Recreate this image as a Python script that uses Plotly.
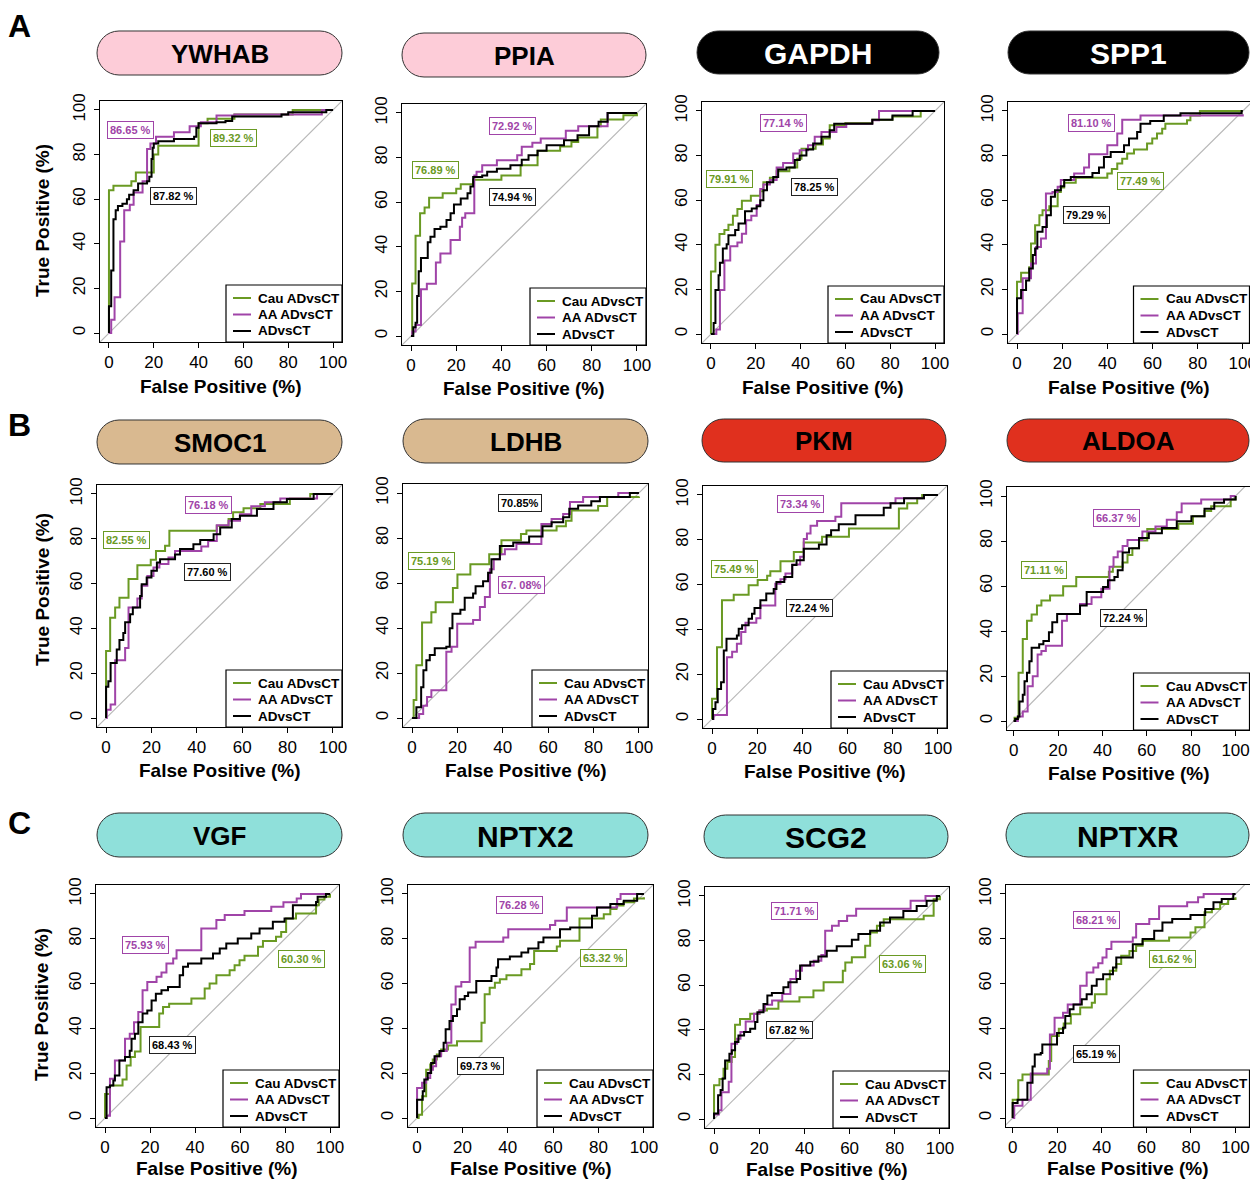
import plotly.graph_objects as go

W, H = 1250, 1180
GREEN = "#6a9a23"
PURPLE = "#a044a8"
BLACK = "#000000"
FONT = "Liberation Sans, Arial, Helvetica, sans-serif"

# ---------------- data ----------------
GENES = ["YWHAB", "PPIA", "GAPDH", "SPP1", "SMOC1", "LDHB", "PKM", "ALDOA", "VGF", "NPTX2", "SCG2", "NPTXR"]
SERIES = ["Cau ADvsCT", "AA ADvsCT", "ADvsCT"]
TICKS = [0, 20, 40, 60, 80, 100]

AUC_CAU = ["89.32 %", "76.89 %", "79.91 %", "77.49 %", "82.55 %", "75.19 %", "75.49 %", "71.11 %", "60.30 %", "63.32 %", "63.06 %", "61.62 %"]
AUC_AA = ["86.65 %", "72.92 %", "77.14 %", "81.10 %", "76.18 %", "67. 08%", "73.34 %", "66.37 %", "75.93 %", "76.28 %", "71.71 %", "68.21 %"]
AUC_ALL = ["87.82 %", "74.94 %", "78.25 %", "79.29 %", "77.60 %", "70.85%", "72.24 %", "72.24 %", "68.43 %", "69.73 %", "67.82 %", "65.19 %"]

# ROC curves: (false positive %, true positive %) step vertices
ywhab_cau = [(0,0),(0,64),(2,66),(10,68),(12,72),(20,80),(22,84),(40,94),(44,96),(56,98),(82,100),(100,100)]
ywhab_aa = [(0,0),(1,6),(2.5,16),(5,41),(6.8,55),(9.3,57.5),(11,63),(15,68),(17,82.5),(18.5,85),(21,88),(29,90),(36,92.7),(41,94.5),(48,97.5),(56,98),(95,100),(100,100)]
ywhab_all = [(0,0),(0,12),(1,28),(2,51),(3,55),(4,57),(6,58),(8,60),(9,62),(11,64),(13,67),(17,68),(18,70),(19,78),(19.5,83),(20,85),(22,86),(29,87),(38,88),(39,92),(40,94),(48,94.5),(52,95),(55,97),(77,98),(80,99),(97,100),(100,100)]

ppia_cau = [(0,0),(0.5,23.6),(2,45),(4,55),(6,57.6),(8,62),(14,64),(20,66),(22,68),(27.5,70),(40,72),(48.5,76.5),(56,83),(66,85),(71,87),(74,89),(82.5,94),(84,97),(94,99),(100,100)]
ppia_aa = [(0,0),(0.5,2),(2,5),(4.4,21),(7,23.5),(11,33),(13,37),(17.5,43),(21.6,49),(22.6,53),(24,55),(28,72),(29,73.6),(31.5,76.5),(38,78.8),(47,81),(49,84.8),(53.7,86.6),(57.4,88.5),(68.5,92),(74,94),(87,100),(100,100)]
ppia_all = [(0,0),(1,4),(2,6),(2.7,18),(3.4,29),(4.4,35),(7.4,42),(8.6,44.5),(10.4,48),(13,49),(15.7,52),(17.5,55),(19,59),(22,61.6),(25,64),(26.3,67),(27.5,71.3),(31.5,72),(33.7,73.6),(38,75),(44,76.5),(49,79),(52,81),(56,83),(60,85.5),(67.7,87.8),(73.7,90),(78.8,94),(83,96),(87,100),(100,100)]

gapdh_cau = [(0,0),(0,28),(2,40),(3.8,44.8),(6,46.6),(7.8,49),(9.8,53),(11.8,56),(13.8,59.7),(17.8,62),(22,64),(23.4,68),(26.3,70),(29.3,73),(35,74.6),(38.5,78.6),(40.4,83),(46.7,85),(50,87.6),(53,93.6),(60,94.6),(72,96),(81,97.5),(93.6,100),(100,100)]
gapdh_aa = [(0,0),(2.4,2),(4,19.7),(6,33),(8.6,39.4),(11.8,41),(13.8,45),(15.7,51),(18,53),(20.4,57.8),(22,65),(23.4,67),(26.3,69),(29.3,74.6),(32.2,76.7),(36.7,80.9),(39.6,82.4),(43.3,84.6),(46.3,88.4),(49.3,90.6),(56,92.8),(60.4,94.3),(72,95.8),(75,100),(100,100)]
gapdh_all = [(0,0),(1.2,5),(2,19.7),(3.4,26.4),(4,32),(5.3,38.4),(7,40.3),(7.8,44.3),(10.8,46.6),(12.3,49.6),(15.2,55),(18.2,56.3),(20.4,57.3),(22,60),(23.4,64.5),(25,68),(27.8,70.4),(30,73.7),(33.7,74.6),(37.4,78),(39.6,80),(42.6,82.7),(45.6,85.4),(49.3,88.4),(53,91.3),(55,94.3),(72,96),(81,98),(90,100),(100,100)]

spp1_cau = [(0,0),(0,23.4),(1.8,27.5),(5.4,29.9),(6.2,40.6),(8,48.8),(9.9,53.3),(11.3,55.5),(14.3,57.3),(18,63.7),(19.4,65.7),(20.9,67.8),(26,70),(40,72),(42,74),(44.4,76.4),(46.6,78.6),(48.8,80.9),(51.8,82.7),(57.6,85.4),(59.9,87.6),(62,89.9),(64.3,92),(65.7,94.3),(75.3,95.8),(76.8,98),(81,100),(100,100)]
spp1_aa = [(0,0),(0.3,9.3),(2.5,25),(6.2,31.6),(8.4,39),(10.6,42.8),(12.8,63),(15.7,63.7),(18,66),(19.4,69),(25.3,72),(29.7,74.6),(31.9,80.6),(40,84.6),(44.4,89.9),(46.6,96),(54.7,98),(100,98.5)]
spp1_all = [(0,0),(0,16),(1.8,19.7),(4,24),(5.4,29.4),(7,35.4),(8,38.4),(9,45.8),(11.3,48),(13.2,53.3),(15,61.5),(16.8,64.5),(19.4,66.3),(20.9,69),(23.8,70.4),(33.4,72.2),(36.3,74.6),(38.5,79.4),(41.5,81.6),(47.4,84.6),(49.6,87.6),(53.2,90.6),(54.7,94.3),(59,95.5),(65,98),(72.4,99),(99.5,100),(100,100)]

smoc1_cau = [(0,0),(0,29.9),(1.8,44.8),(4,49.3),(5.9,53.7),(9.9,62),(13.8,68.2),(19.7,70.6),(22,74.6),(26,76.9),(27.9,83.6),(48.8,85.8),(54,88.8),(56,91.8),(60.6,93.6),(68,95.5),(81,98),(90,100),(100,100)]
smoc1_aa = [(0,0),(0.3,3.7),(2,6),(4,25.8),(8.4,31.3),(9.9,49.3),(13.8,53.3),(15.7,59),(18.2,63.4),(20.9,67.2),(23.5,68.7),(27.5,71.6),(30.4,74.6),(42,76.6),(45,79),(48.8,86),(54,88),(59,91),(64,94.5),(70,96.3),(76.8,98),(93,100),(100,100)]
smoc1_all = [(0,0),(0,14),(1,16.4),(2,24.6),(4.7,30.6),(5.9,34.8),(7.6,38),(8.4,42.8),(10.6,46.3),(11.8,49.3),(15,54.5),(15.7,59.7),(17.9,62.7),(20,65.7),(22.4,69.4),(23.8,70.9),(30.4,73),(32.6,75.4),(38.5,77.6),(41.5,79.5),(47.4,82),(50.3,85),(55.4,88.8),(59,90.3),(66.5,93.3),(73.8,96.3),(79.7,97.8),(91.5,100),(100,100)]

ldhb_cau = [(0,0),(0.7,8),(1.9,23.5),(4.4,42.5),(8.5,47),(10.4,51.4),(18,57.8),(20,63.8),(25.7,68.3),(34,72.8),(39.4,79),(48,81.8),(50.4,83.3),(63.7,85.2),(67.8,87.7),(70.3,92.2),(82,94.2),(86,98.2),(100,98.5)]
ldhb_aa = [(0,0),(3.1,1.8),(4.9,5.5),(6.6,9.3),(8.5,12.3),(15.1,29.4),(17.4,31.7),(19.9,41.9),(26.9,43.6),(29.9,49.3),(32.1,53.8),(34.3,66.1),(36,70.6),(38.7,72.8),(40.9,75),(46,77.3),(57,86.2),(61.5,88.5),(66.6,90.7),(69.6,96),(75.4,98.2),(90.9,100),(100,100)]
ldhb_all = [(0,0),(1.9,4.8),(4,13.7),(5,21.2),(6.3,25.7),(7.8,28),(10,31),(15.1,31.7),(16.6,39.9),(17.8,46.3),(21.3,48.1),(23.2,53.4),(26.9,55.3),(28,58.6),(31.3,60.8),(33.5,64.6),(35,70.6),(38.7,76.5),(44.6,78),(51.6,80.7),(57.5,85.2),(61.5,87),(66.6,89.2),(69.3,93),(73.2,94.5),(79,96.3),(82.8,98.2),(96,100),(100,100)]

pkm_cau = [(0,0),(0,9),(2.2,32),(4.4,53),(9.6,55.5),(16.2,59.7),(20.2,62),(24.4,63.9),(25.8,66),(30.3,70.4),(36.2,74.6),(40.6,78.8),(48.7,81.3),(60.6,85),(82.7,94),(86.4,96.3),(90.8,98.5),(93,100),(100,100)]
pkm_aa = [(0,0),(0.7,1.8),(6.6,27.6),(8.9,30),(11,33.6),(12.9,38.8),(14.8,43),(19.6,45),(21.4,50.7),(28,60.4),(30.3,62.4),(32.5,64.9),(35.5,69),(39,72.4),(40.6,80.3),(42,82.8),(43.6,86.3),(46.5,88.4),(54.6,90.3),(57.2,96.3),(81.2,98.5),(93.8,100),(100,100)]
pkm_all = [(0,0),(0.4,4.5),(1.5,7.5),(2.5,13.4),(4,16.4),(5.2,30.6),(6.4,35.8),(11,37.3),(11.8,40.3),(13.3,41.8),(16.2,44.8),(17.7,47),(18.8,49.6),(21.4,53),(24,56),(27.3,58),(28.5,61.2),(32,63.4),(35.5,68.7),(37.4,70.9),(40.6,76),(47.3,77.9),(50.7,82),(52.7,84.3),(56.1,86.9),(63.5,91),(76,94.3),(79,96.3),(85,98.5),(93.8,100),(100,100)]

aldoa_cau = [(0,0),(0.4,1.5),(2.2,21.4),(4.1,36.4),(6,44.6),(8.1,47.3),(10.5,51.3),(12.5,53.6),(16.4,55.8),(22.3,59.9),(28.2,64),(42.9,66.3),(44.7,68.6),(49.1,70.4),(51.3,73.8),(53.5,76.8),(56.5,80.2),(60.2,85.3),(74.2,87.7),(80.8,91),(86,93.3),(89,95.5),(97.8,98.5),(100,100)]
aldoa_aa = [(0,0),(1.9,2),(4.1,4.2),(6.3,15.4),(8.6,19.9),(10.8,29.6),(12.5,31.1),(14.5,33.4),(21.8,44.6),(24,47.6),(29.9,52),(35.1,55),(39.5,58.8),(43.2,68.6),(45,72.8),(46.9,75.3),(49.1,77.8),(51.3,80.5),(58,84.2),(63.9,86.5),(69,89.5),(73.5,92.8),(75.7,96.7),(84.5,98.5),(97.8,100),(100,100)]
aldoa_all = [(0,0),(0.7,0.9),(1.9,2),(2.6,8.7),(4.1,11.7),(4.9,17.7),(6,21.4),(7.1,26.6),(8.1,32.6),(11.5,34.1),(13.4,35.6),(15.9,39.4),(17.4,43.9),(19.6,47.6),(29.9,51.3),(32.9,57.3),(40.3,59.6),(42.5,62.6),(45.4,64),(46.9,67),(49.1,74.9),(52,76.8),(56.5,81.3),(60.9,83.5),(66.8,85.8),(73.5,88.8),(80.1,91),(86,94.3),(90.4,97),(94.8,98.5),(100,100)]

vgf_cau = [(0,0),(0,10.7),(2.2,14.5),(7.8,17.2),(9.6,23.4),(11.4,27.2),(13.3,29.7),(15.8,40.6),(24.1,46.6),(25.8,49.6),(28.5,51),(38.4,53.3),(44.3,57.8),(46.5,60),(49.5,63.7),(55.4,66),(57.6,68.2),(59.8,70.4),(62,72.4),(68,76.4),(70.2,79),(76,80.9),(78.3,83),(80.5,89),(84.9,91.3),(93.8,95),(95,97.5),(97.5,98.8),(100,100)]
vgf_aa = [(0,0),(0.7,1),(2.2,17.5),(4.4,25.7),(8.9,35.4),(11,37.6),(12.9,42.8),(14.8,47.3),(16.7,57),(18.8,60.7),(22.9,63),(25.1,64.9),(27.3,69),(30.3,71.2),(31.8,74.9),(42.8,84.6),(49.5,88.4),(53.2,90.6),(62,92.4),(73.9,94.3),(79.3,96.3),(85.2,98),(87.1,100),(100,100)]
vgf_all = [(0,0),(0.7,13.7),(2.2,14.5),(3.7,16.7),(4.4,19),(6.4,25.7),(8.9,27.2),(11,30),(11.8,35.4),(13.3,37.6),(14.8,42.8),(16.7,46.6),(18.8,48),(20.7,52.5),(22.6,55.5),(25.1,57),(28,58.5),(33.2,63.7),(34.7,67.5),(36.9,69),(42.8,71.2),(48,73.4),(51,75.7),(53.9,77.9),(59,80.1),(65,82.4),(68.7,84.6),(74.6,87.6),(79.8,89),(83.5,95),(93.8,96.4),(94.5,98.8),(98.2,100),(100,100)]

nptx2_cau = [(0,0),(0.7,1.5),(2.2,9.7),(4,21.6),(5.8,23.9),(6.9,26.1),(8.7,28.4),(10.6,30.6),(13.6,32.4),(17.6,34.3),(28.4,42.5),(29.8,55.2),(32,58.2),(34.3,60.4),(36.5,61.9),(39.4,63.7),(46,66.4),(49.8,68.7),(51.6,74.6),(61.6,76.6),(63,79.1),(71.6,89.1),(82.3,91),(85.2,93.3),(87.9,94.8),(91,96.3),(95.6,98),(100,98.5)]
nptx2_aa = [(0,0),(0,13.4),(2.2,15.7),(4,17.9),(5.8,21.6),(7,23.1),(8.4,27.6),(10.6,29.9),(13.1,33.6),(15.1,50.7),(17,58.7),(19.5,60.7),(23.2,76.1),(25.8,78.7),(38,80.6),(40.2,84.3),(58.6,86.1),(60.9,88.1),(66,94),(88.2,97.8),(89.7,100),(100,100)]
nptx2_all = [(0,0),(0,8.2),(2.5,12),(3.2,17.2),(4.7,20.1),(6.2,24.6),(7.7,27.6),(9.9,29.9),(11.7,33.6),(12.6,39.6),(14.3,43.3),(15.8,45.5),(17.6,48.5),(18.8,53),(21,54.5),(22.5,56),(26.1,61.2),(32.8,63.4),(35,67.2),(35.7,70.9),(40.9,72.1),(46,73.9),(49,75.7),(53.5,78.4),(55.7,80.6),(63,84.3),(67.5,85),(77.1,90.3),(79.3,94),(85.2,95.5),(91.1,97),(97,100),(100,100)]

scg2_cau = [(0,0),(0,15.2),(2.4,18),(4.2,22.6),(5.9,25.6),(7.8,27.8),(9.3,42.3),(11.5,44.9),(16,47.2),(20.1,48.7),(23.4,49.4),(28.5,52.7),(37.8,54.6),(44,57.6),(48.5,61.3),(57,66.5),(58.1,70.2),(61,72.5),(66.9,77.7),(69.1,83.6),(72.1,86.6),(75.1,89.6),(92.8,91.1),(97.2,98.5),(100,100)]
scg2_aa = [(0,0),(0,2),(2.1,4),(3.3,12),(6.5,16.7),(7.7,33.8),(10.2,36),(11.7,39),(14,43.7),(17.7,47.2),(20.1,48.7),(22.5,51.2),(25.7,53.1),(30.2,56.1),(33.8,62.8),(36.3,66.5),(38.9,68.8),(44.1,71),(47.5,73.5),(49.2,84.4),(52.2,86.6),(55.2,88.8),(58.9,91.1),(62.9,94.3),(87,97.8),(93.6,100),(100,100)]
scg2_all = [(0,0),(0,2.5),(1.8,10.7),(2.9,13),(3.8,18.2),(4.9,26.3),(6.8,29.3),(7.9,30.8),(9.3,34.5),(10.8,37.5),(13.3,39),(16,40.5),(18.2,43.5),(19.2,47.9),(21.9,51.6),(23.6,55.4),(25.6,56.5),(30.7,59.1),(32.9,61.3),(36.6,62.8),(38.1,68.8),(42.6,70.5),(46.2,72.9),(49.9,75.4),(54.3,77.4),(61,80.4),(63.9,82.9),(69.1,84.4),(73.5,88.1),(77.9,90.3),(83.8,93.3),(89.7,95.5),(94.1,97.8),(98.6,100),(100,100)]

nptxr_cau = [(0,0),(0,8.2),(2.5,16.9),(4.4,19.4),(16.2,25.4),(17.3,36.6),(20.7,39.9),(22.9,42.2),(26.1,46.3),(30.3,49.3),(35.5,51.5),(36.9,55.2),(42.1,61.9),(43.6,65.7),(46.5,68.7),(48.7,72.4),(52.4,74.6),(55.4,76.9),(58.3,79.1),(70.2,80.6),(79.8,82.8),(82,85.1),(86.1,91.8),(89.4,93.3),(93.1,95.5),(96.7,97.8),(100,98.5)]
nptxr_aa = [(0,0),(0.7,5.5),(4.4,8.2),(8.1,19.9),(15.5,22),(16.7,37.3),(18.8,44.8),(22.6,47),(24.7,50.7),(30.3,59),(33.2,64.9),(36.2,67.2),(38.4,69.1),(40.3,71.6),(42.1,75.4),(44.3,78.7),(53.9,80.6),(55.4,86.6),(61.3,88.8),(65.7,94.5),(78.3,96.3),(83.2,98.5),(85.7,100),(100,100)]
nptxr_all = [(0,0),(0,6.7),(2.2,8.2),(6.6,15.7),(8.9,23),(9.9,28.4),(12.6,29),(13.3,32.8),(19.9,38),(22.6,40.3),(23.6,45.5),(25.6,48.5),(27.3,50.7),(31,53),(33.2,55.2),(35.5,59),(37.7,61.9),(40.6,64.2),(45,67.2),(46.5,71.6),(53.9,77.6),(58.3,79.9),(63.5,83.6),(67.2,87.3),(71.6,88.8),(79.8,90.6),(86.4,93.3),(90.1,96.3),(93.8,97.8),(99,100),(100,100)]

CURVES = {
    "YWHAB": [ywhab_cau, ywhab_aa, ywhab_all],
    "PPIA": [ppia_cau, ppia_aa, ppia_all],
    "GAPDH": [gapdh_cau, gapdh_aa, gapdh_all],
    "SPP1": [spp1_cau, spp1_aa, spp1_all],
    "SMOC1": [smoc1_cau, smoc1_aa, smoc1_all],
    "LDHB": [ldhb_cau, ldhb_aa, ldhb_all],
    "PKM": [pkm_cau, pkm_aa, pkm_all],
    "ALDOA": [aldoa_cau, aldoa_aa, aldoa_all],
    "VGF": [vgf_cau, vgf_aa, vgf_all],
    "NPTX2": [nptx2_cau, nptx2_aa, nptx2_all],
    "SCG2": [scg2_cau, scg2_aa, scg2_all],
    "NPTXR": [nptxr_cau, nptxr_aa, nptxr_all],
}

# ---------------- layout config (pixels) ----------------
# x0, x1, y0, y1 (pixel box), x-range min, x-range max
BOXES = [
    (100, 342, 101, 342, -4, 104), (402, 646, 104, 345, -4, 104), (702, 944, 102, 343, -4, 104), (1008, 1250, 102, 343, -4, 103.2),
    (97, 342, 485, 727, -4, 104), (403, 648, 484, 727, -4, 104), (703, 947, 486, 728, -4, 104), (1007, 1250, 487, 730, -3, 106.5),
    (96, 339, 885, 1127, -4, 104), (408, 653, 885, 1127, -4, 104), (705, 949, 887, 1128, -4, 104), (1006, 1250, 885, 1127, -3, 106.5),
]
PILLS = [
    (97, 342, 31, 75), (402, 646, 33, 77), (697, 939, 31, 74), (1008, 1249, 31, 74),
    (97, 342, 420, 464), (403, 648, 419, 463), (702, 946, 419, 462), (1007, 1249, 419, 462),
    (97, 342, 813, 857), (403, 648, 813, 857), (704, 948, 815, 858), (1006, 1249, 813, 857),
]
PILL_FILL = ["#fdccd8", "#fdccd8", "#000000", "#000000", "#d9b990", "#d9b990", "#e0301e", "#e0301e",
             "#8fe0da", "#8fe0da", "#8fe0da", "#8fe0da"]
PILL_TEXT = ["#000", "#000", "#fff", "#fff", "#000", "#000", "#000", "#000", "#000", "#000", "#000", "#000"]
PILL_SIZE = [26, 26, 30, 30, 26, 26, 26, 26, 26, 30, 30, 30]
XTITLE_GAP = [44, 44, 44, 44, 43, 43, 43, 43, 41, 41, 41, 41]

LABEL_POS = [
    [(55.4, 87.3), (9.4, 91.2), (29, 61.3)],
    [(11, 74.3), (45, 94.2), (44.8, 62.4)],
    [(8.4, 69.7), (32.5, 94.6), (46, 65.8)],
    [(54.9, 68.8), (33.1, 94.6), (30.6, 53.3)],
    [(9.1, 79.3), (45.3, 95.1), (44.7, 65.2)],
    [(8.7, 69.8), (48.4, 58.9), (47.5, 95.4)],
    [(10, 67), (39, 95.8), (43.1, 49.6)],
    [(13.6, 66.9), (46.3, 90.4), (49.6, 45.8)],
    [(87.3, 71.2), (17.9, 77.2), (30.1, 32.7)],
    [(82.1, 71.6), (45.2, 95.1), (28.1, 23.4)],
    [(83.2, 69.5), (35.5, 93.3), (33.6, 39.9)],
    [(71.9, 70.9), (37.5, 88.2), (37.7, 28.5)],
]
COLORS = [GREEN, PURPLE, BLACK]


def px(x):
    return x / W


def py(y):
    return 1 - y / H


def pill_path(x0, x1, y0, y1):
    r = (y1 - y0) / 2.0
    k = 0.5523 * r
    def P(x, y):
        return f"{px(x):.5f},{py(y):.5f}"
    return (f"M {P(x0 + r, y0)} L {P(x1 - r, y0)} "
            f"C {P(x1 - r + k, y0)} {P(x1, y0 + r - k)} {P(x1, y0 + r)} "
            f"C {P(x1, y0 + r + k)} {P(x1 - r + k, y1)} {P(x1 - r, y1)} "
            f"L {P(x0 + r, y1)} "
            f"C {P(x0 + r - k, y1)} {P(x0, y1 - r + k)} {P(x0, y1 - r)} "
            f"C {P(x0, y1 - r - k)} {P(x0 + r - k, y0)} {P(x0 + r, y0)} Z")


fig = go.Figure()
shapes = []
annotations = []

for i, gene in enumerate(GENES):
    k = "" if i == 0 else str(i + 1)
    xa, ya = "x" + k, "y" + k
    x0, x1, y0, y1, xmin, xmax = BOXES[i]

    fig.add_trace(go.Scatter(x=[-5, 110], y=[-5, 110], mode="lines",
                             line=dict(color="#b8b8b8", width=1.2),
                             xaxis=xa, yaxis=ya, hoverinfo="skip", showlegend=False))
    for curve, color, name in zip(CURVES[gene], COLORS, SERIES):
        fig.add_trace(go.Scatter(x=[p[0] for p in curve], y=[p[1] for p in curve],
                                 mode="lines", name=name,
                                 line=dict(color=color, width=2, shape="hv"),
                                 xaxis=xa, yaxis=ya, showlegend=False))

    axis_common = dict(showgrid=False, zeroline=False, showline=True, mirror=True,
                       linecolor="black", linewidth=1, ticks="outside", ticklen=5,
                       tickcolor="black", tickvals=TICKS, ticklabeloverflow="allow",
                       automargin=False,
                       tickfont=dict(family=FONT, size=17, color="black"))
    fig.layout["xaxis" + k] = dict(domain=[px(x0), px(x1)], range=[xmin, xmax], anchor=ya, **axis_common)
    fig.layout["yaxis" + k] = dict(domain=[py(y1), py(y0)], range=[-4, 104], anchor=xa,
                                   tickangle=-90, ticklabelstandoff=2, **axis_common)

    for (lx, ly), txt, col in zip(LABEL_POS[i], [AUC_CAU[i], AUC_AA[i], AUC_ALL[i]], COLORS):
        annotations.append(dict(x=lx, y=ly, xref=xa, yref=ya, text=txt, showarrow=False,
                                font=dict(family=FONT, size=11, color=col, weight="bold"),
                                bgcolor="white", bordercolor=col if col != BLACK else "#222",
                                borderwidth=1, borderpad=2))

    lx1 = min(x1, 1249.5)
    lx0 = lx1 - 116
    ly0, ly1 = y1 - 57, y1
    shapes.append(dict(type="rect", xref="paper", yref="paper", x0=px(lx0), x1=px(lx1),
                       y0=py(ly1), y1=py(ly0), line=dict(color="black", width=1.2),
                       fillcolor="white", layer="above"))
    for j, (name, col) in enumerate(zip(SERIES, COLORS)):
        yy = ly1 - 44 + j * 16.5
        shapes.append(dict(type="line", xref="paper", yref="paper", x0=px(lx0 + 7), x1=px(lx0 + 25),
                           y0=py(yy), y1=py(yy), line=dict(color=col, width=2), layer="above"))
        annotations.append(dict(x=px(lx0 + 30), y=py(yy), xref="paper", yref="paper", text=name,
                                showarrow=False, xanchor="left", yanchor="middle",
                                font=dict(family=FONT, size=13.5, color="black", weight="bold")))

    p0, p1, q0, q1 = PILLS[i]
    shapes.append(dict(type="path", path=pill_path(p0, p1, q0, q1), xref="paper", yref="paper",
                       fillcolor=PILL_FILL[i], line=dict(color="#333333", width=1), layer="above"))
    annotations.append(dict(x=px((p0 + p1) / 2), y=py((q0 + q1) / 2 + 1), xref="paper", yref="paper",
                            text=gene, showarrow=False, xanchor="center", yanchor="middle",
                            font=dict(family=FONT, size=PILL_SIZE[i], color=PILL_TEXT[i], weight="bold")))

    annotations.append(dict(x=px((x0 + x1) / 2), y=py(y1 + XTITLE_GAP[i]), xref="paper", yref="paper",
                            text="False Positive (%)", showarrow=False, xanchor="center", yanchor="middle",
                            font=dict(family=FONT, size=19, color="black", weight="bold")))

for yc in [221, 590, 1005]:
    annotations.append(dict(x=px(42), y=py(yc), xref="paper", yref="paper", text="True Positive (%)",
                            showarrow=False, textangle=-90, xanchor="center", yanchor="middle",
                            font=dict(family=FONT, size=19, color="black", weight="bold")))
for letter, yc in zip(["A", "B", "C"], [26, 425, 823]):
    annotations.append(dict(x=px(19), y=py(yc), xref="paper", yref="paper", text=letter,
                            showarrow=False, xanchor="center", yanchor="middle",
                            font=dict(family=FONT, size=32, color="black", weight="bold")))

fig.update_layout(width=W, height=H, margin=dict(l=0, r=0, t=0, b=0, pad=0, autoexpand=False),
                  paper_bgcolor="white", plot_bgcolor="white",
                  shapes=shapes, annotations=annotations, showlegend=False,
                  font=dict(family=FONT))

fig.write_html("out.html", config={"displayModeBar": False},
               post_script="document.body.style.margin='0';")
